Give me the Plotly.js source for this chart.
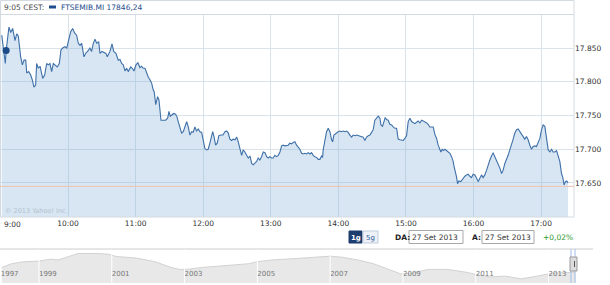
<!DOCTYPE html>
<html>
<head>
<meta charset="utf-8">
<script src="https://cdn.plot.ly/plotly-3.0.1.min.js"></script>
<style>html,body{margin:0;padding:0;background:#fff;}#chart{width:610px;height:285px;}</style>
</head>
<body>
<div id="chart"></div>
<script>
// ---- intraday data: minutes after 9:00 and index level ----
const minutesFrom9 = [
1.1,2.5,4.3,5.0,7.5,9.1,10.8,12.9,14.4,15.8,
17.9,19.4,20.9,22.4,23.3,25.0,26.8,28.2,29.7,31.2,
32.1,33.6,35.1,37.5,39.2,41.0,42.4,43.9,45.4,46.9,
48.6,50.4,52.2,53.7,55.2,57.2,58.8,60.2,62.3,64.1,
65.9,67.6,69.1,70.6,72.1,74.1,75.9,77.4,79.4,80.9,
82.4,83.9,85.4,87.2,88.3,90.1,91.9,93.6,94.8,97.2,
99.0,100.5,102.5,104.6,106.1,107.6,109.0,110.5,112.0,113.4,
115.6,117.0,118.5,120.3,122.0,123.8,125.3,126.7,128.3,129.8,
131.2,132.7,134.2,135.6,136.5,137.8,138.6,139.5,140.7,141.6,
142.5,144.5,146.6,148.4,149.6,150.7,152.0,153.7,155.5,156.7,
157.8,159.3,160.8,162.3,163.8,165.3,166.7,168.2,169.7,171.1,
172.6,174.1,175.6,177.1,178.6,180.0,181.5,183.0,184.4,185.9,
187.5,188.4,189.5,191.0,192.4,193.9,195.7,197.5,199.3,200.8,
202.2,203.7,205.2,206.6,208.1,209.7,211.1,212.6,214.1,215.5,
217.0,218.5,220.0,221.5,223.0,224.4,225.9,227.4,228.8,230.3,
231.8,233.3,234.8,236.3,237.7,239.2,240.7,242.1,243.6,245.1,
246.6,248.1,249.6,251.0,252.5,254.0,255.4,256.9,258.4,259.9,
261.4,262.9,264.3,265.8,267.3,268.8,270.3,271.8,273.2,274.7,
276.2,277.6,279.1,280.6,282.1,283.6,285.1,286.0,286.5,288.0,
289.5,291.0,292.5,294.0,294.9,296.0,297.8,299.8,301.3,302.8,
304.3,305.8,307.3,308.7,310.2,311.7,313.1,314.7,316.2,317.6,
319.1,320.6,322.0,323.5,325.0,326.5,328.0,329.5,330.9,332.4,
333.9,335.4,336.9,337.8,339.2,340.4,341.6,342.8,344.2,345.7,
347.2,348.7,350.2,351.7,353.1,354.6,356.1,357.5,359.0,360.5,
362.0,363.5,365.0,366.4,367.9,369.4,370.8,372.4,373.9,375.3,
376.8,378.3,379.7,381.2,382.7,384.2,385.7,387.2,388.6,390.1,
391.0,392.2,393.1,394.6,396.1,397.5,399.0,400.5,401.9,402.8,
404.0,404.9,405.8,407.0,408.7,410.8,412.3,413.8,415.2,416.7,
418.2,419.7,421.2,422.7,424.1,425.6,427.1,428.5,430.0,431.6,
433.0,434.5,436.0,437.4,438.3,439.5,440.4,441.8,443.4,444.9,
446.3,447.8,449.3,450.7,452.2,453.7,455.2,456.7,458.2,459.6,
461.1,462.6,464.0,465.5,467.0,468.5,470.0,471.5,472.9,474.4,
475.9,477.4,478.9,480.4,481.8,483.3,484.2,485.4,486.3,487.8,
489.3,490.7,492.2,493.7,495.2,496.6,498.1,499.3,500.4,501.6,
502.8,503.9];
const prices = [
17869,17852,17827,17846,17881,17873,17879,17861,17871,17868,
17837,17825,17832,17832,17813,17815,17810,17803,17792,17795,
17827,17820,17823,17805,17810,17827,17825,17827,17815,17827,
17825,17822,17827,17847,17850,17852,17850,17859,17874,17879,
17872,17869,17857,17854,17857,17837,17843,17845,17850,17845,
17857,17863,17857,17859,17842,17845,17843,17842,17837,17845,
17856,17845,17842,17832,17833,17827,17825,17816,17820,17815,
17822,17820,17816,17825,17828,17821,17823,17820,17820,17813,
17807,17803,17798,17788,17785,17766,17770,17778,17773,17758,
17743,17743,17743,17746,17756,17749,17751,17753,17752,17748,
17741,17731,17724,17726,17733,17741,17733,17721,17726,17725,
17733,17727,17730,17726,17725,17714,17701,17699,17700,17709,
17721,17726,17719,17706,17709,17720,17721,17721,17726,17727,
17724,17715,17713,17715,17714,17718,17711,17699,17691,17699,
17696,17691,17687,17690,17679,17677,17679,17682,17687,17684,
17689,17696,17695,17689,17687,17689,17687,17687,17691,17689,
17691,17696,17705,17706,17705,17706,17706,17709,17708,17710,
17711,17706,17703,17700,17694,17693,17694,17693,17695,17693,
17695,17691,17689,17688,17685,17685,17690,17688,17699,17714,
17726,17731,17726,17714,17711,17721,17724,17726,17727,17726,
17727,17726,17727,17725,17721,17718,17721,17720,17721,17720,
17720,17719,17718,17713,17718,17720,17721,17725,17729,17743,
17747,17749,17746,17736,17734,17741,17747,17744,17743,17737,
17736,17733,17731,17731,17715,17714,17714,17713,17716,17720,
17741,17746,17741,17739,17738,17740,17742,17739,17743,17742,
17741,17739,17737,17733,17733,17733,17722,17716,17706,17701,
17696,17700,17698,17700,17698,17696,17694,17689,17682,17674,
17667,17659,17649,17653,17652,17657,17660,17662,17663,17660,
17658,17663,17662,17657,17652,17657,17662,17658,17662,17669,
17677,17684,17690,17695,17691,17687,17684,17678,17672,17664,
17669,17679,17684,17691,17699,17706,17715,17724,17729,17730,
17726,17721,17719,17715,17719,17714,17706,17700,17704,17705,
17704,17709,17716,17729,17736,17734,17724,17706,17699,17696,
17700,17696,17696,17698,17691,17682,17664,17658,17647,17652,
17653,17650];

const hourTicks = [0,60,120,180,240,300,360,420,480];
const hourLabels = ["9:00","10:00","11:00","12:00","13:00","14:00","15:00","16:00","17:00"];
const priceTicks = [17650,17700,17750,17800,17850];
const prevClose = 17645;

const quoteTimeLabel = "9:05 CEST:";
const quoteMinute = 5;
const ticker = "FTSEMIB.MI";
const quoteValue = 17846.24;
const dateFrom = "27 Set 2013";
const dateTo = "27 Set 2013";
const changePct = "+0,02%";
const rangeButtons = ["1g","5g"];

// ---- long-term navigator (decimal year, level) ----
const navYears = [1997.98,1998.25,1998.57,1999.00,1999.32,1999.53,1999.85,2000.07,2000.60,2000.92,
2001.13,2001.67,2002.20,2002.63,2002.85,2003.06,2003.49,2003.91,2004.34,2004.77,
2004.98,2005.41,2005.95,2006.48,2007.01,2007.34,2007.76,2008.19,2008.62,2008.94,
2009.26,2009.69,2010.22,2010.76,2011.08,2011.40,2011.82,2012.25,2012.68,2013.11,2013.59,2013.74];
const navLevels = [29580,35100,37860,38960,41720,40620,46140,50000,50000,48900,
45600,43400,37860,29580,26800,26800,29580,31230,32340,35100,
37860,40620,42270,44480,46140,44480,40620,35100,26800,20190,
21300,26800,26800,22400,18540,15780,16880,13000,16880,21300,22400,22900];
const navTickVals = [1997.95,1999,2001,2003,2005,2007,2009,2011,2013];
const navTickText = ["1997","1999","2001","2003","2005","2007","2009","2011","2013"];
const navSeparators = [1999,2001,2003,2005,2007,2009,2011,2013];

const W = 610, H = 285;
const X = p => p / W;
const Y = p => 1 - p / H;
const FONT = "DejaVu Sans, Verdana, sans-serif";
const fmtVal = v => v.toFixed(2).replace('.', ',');

const traces = [
  {
    x: minutesFrom9, y: prices, type: 'scatter', mode: 'lines',
    fill: 'tozeroy', fillcolor: 'rgba(110,165,210,0.28)',
    line: {color: '#3f70a8', width: 1.1},
    hoverinfo: 'skip', xaxis: 'x', yaxis: 'y'
  },
  {
    x: [quoteMinute], y: [quoteValue], type: 'scatter', mode: 'markers',
    marker: {color: '#1c4a86', size: 7},
    hoverinfo: 'skip', xaxis: 'x', yaxis: 'y'
  },
  {
    x: navYears, y: navLevels, type: 'scatter', mode: 'lines',
    fill: 'tozeroy', fillcolor: '#e8e8e8',
    line: {color: '#d2d2d2', width: 1},
    hoverinfo: 'skip', xaxis: 'x2', yaxis: 'y2'
  }
];

const shapes = [
  {type:'rect', xref:'paper', yref:'paper', x0:X(0.5), x1:X(574), y0:Y(0.5), y1:Y(217), line:{color:'#d3dae1', width:1}},
  {type:'line', xref:'paper', yref:'paper', x0:X(0), x1:X(574), y0:Y(14.5), y1:Y(14.5), line:{color:'#d3dae1', width:1}},
  {type:'line', xref:'paper', yref:'y', x0:X(0), x1:X(574), y0:prevClose, y1:prevClose, line:{color:'#f2c2ac', width:1}, layer:'above'},
  {type:'rect', xref:'paper', yref:'paper', x0:X(49), x1:X(56), y0:Y(5.5), y1:Y(8.5), fillcolor:'#1f4e8c', line:{width:0}},
  // range buttons
  {type:'rect', xref:'paper', yref:'paper', x0:X(349), x1:X(362), y0:Y(231), y1:Y(243), fillcolor:'#1c3d6e', line:{color:'#1c3d6e', width:1}},
  {type:'rect', xref:'paper', yref:'paper', x0:X(363), x1:X(378), y0:Y(231), y1:Y(243), fillcolor:'#eef2f8', line:{color:'#bfcddc', width:1}},
  // date boxes
  {type:'rect', xref:'paper', yref:'paper', x0:X(409), x1:X(463), y0:Y(230.5), y1:Y(243.5), fillcolor:'#ffffff', line:{color:'#a8a8a8', width:1}},
  {type:'rect', xref:'paper', yref:'paper', x0:X(482), x1:X(534), y0:Y(230.5), y1:Y(243.5), fillcolor:'#ffffff', line:{color:'#a8a8a8', width:1}},
  // navigator frame
  {type:'line', xref:'paper', yref:'paper', x0:X(0), x1:X(593), y0:Y(249), y1:Y(249), line:{color:'#cccccc', width:1}},
  {type:'line', xref:'paper', yref:'paper', x0:X(571), x1:X(571), y0:Y(249), y1:Y(283), line:{color:'#9fbde6', width:1}, layer:'above'},
  {type:'line', xref:'paper', yref:'paper', x0:X(575), x1:X(575), y0:Y(249), y1:Y(283), line:{color:'#9fbde6', width:1}, layer:'above'},
  {type:'rect', xref:'paper', yref:'paper', x0:X(570), x1:X(577), y0:Y(257), y1:Y(271), fillcolor:'#dcdcdc', line:{color:'#9a9a9a', width:1}, layer:'above'},
  {type:'line', xref:'paper', yref:'paper', x0:X(574.5), x1:X(574.5), y0:Y(261), y1:Y(267), line:{color:'#555', width:1}, layer:'above'}
];
navSeparators.forEach(yr => shapes.push({
  type:'line', xref:'x2', yref:'paper', x0:yr, x1:yr, y0:Y(283), y1:Y(249.5),
  line:{color:'#ffffff', width:1}, layer:'above'
}));

const annotations = [
  {text: quoteTimeLabel, x:X(3), y:Y(7.5), xanchor:'left', yanchor:'middle', font:{family:FONT, size:7.5, color:'#4a4a4a'}},
  {text: ticker + ' ' + fmtVal(quoteValue), x:X(60), y:Y(7.5), xanchor:'left', yanchor:'middle', font:{family:FONT, size:7.5, color:'#1f4e8c'}},
  {text: hourLabels[0], x:X(3), y:Y(224.5), xanchor:'left', yanchor:'middle', font:{family:FONT, size:7.5, color:'#333'}},
  {text: '© 2013 Yahoo! Inc.', x:X(4), y:Y(211), xanchor:'left', yanchor:'middle', font:{family:FONT, size:6.5, color:'#b3c2d0'}},
  {text: '<b>' + rangeButtons[0] + '</b>', x:X(355.5), y:Y(237.5), xanchor:'center', yanchor:'middle', font:{family:FONT, size:7, color:'#ffffff'}},
  {text: rangeButtons[1], x:X(370.5), y:Y(237.5), xanchor:'center', yanchor:'middle', font:{family:FONT, size:7, color:'#2a5a9a'}},
  {text: '<b>DA:</b>', x:X(394), y:Y(237.5), xanchor:'left', yanchor:'middle', font:{family:FONT, size:7.5, color:'#222'}},
  {text: dateFrom, x:X(411), y:Y(237.5), xanchor:'left', yanchor:'middle', font:{family:FONT, size:7.5, color:'#333'}},
  {text: '<b>A:</b>', x:X(471), y:Y(237.5), xanchor:'left', yanchor:'middle', font:{family:FONT, size:7.5, color:'#222'}},
  {text: dateTo, x:X(484), y:Y(237.5), xanchor:'left', yanchor:'middle', font:{family:FONT, size:7.5, color:'#333'}},
  {text: changePct, x:X(542), y:Y(237.5), xanchor:'left', yanchor:'middle', font:{family:FONT, size:7.5, color:'#2f9a2f'}}
].map(a => Object.assign({showarrow:false, xref:'paper', yref:'paper', borderpad:0}, a));

const layout = {
  width: W, height: H,
  margin: {l:0, r:0, t:0, b:0, pad:0},
  paper_bgcolor: '#ffffff', plot_bgcolor: '#ffffff',
  separators: ',.',
  showlegend: false,
  font: {family: FONT, size: 7.5, color: '#333'},
  xaxis: {
    domain: [X(0), X(574)], range: [-0.44, 509.2],
    tickvals: hourTicks, ticktext: [''].concat(hourLabels.slice(1)),
    showgrid: true, gridcolor: '#dbe3ea', gridwidth: 1,
    zeroline: false, showline: false, ticks: '', fixedrange: true,
    tickfont: {family: FONT, size: 7.5, color: '#333'}
  },
  yaxis: {
    domain: [Y(217), Y(14)], range: [17599.6, 17900.4],
    side: 'right', tickvals: priceTicks, tickformat: ',d',
    showgrid: true, gridcolor: '#dbe3ea', gridwidth: 1,
    zeroline: false, showline: false, ticks: '', fixedrange: true,
    tickfont: {family: FONT, size: 7.5, color: '#333'}
  },
  xaxis2: {
    domain: [X(0), X(593)], range: [1997.93, 2014.22], anchor: 'y2',
    tickvals: navTickVals, ticktext: navTickText,
    ticklabelposition: 'inside right',
    showgrid: false, zeroline: false, showline: false, ticks: '',
    tickfont: {family: FONT, size: 7, color: '#777'}
  },
  yaxis2: {
    domain: [Y(283), Y(249)], range: [6900, 56600], anchor: 'x2',
    showgrid: false, zeroline: false, showline: false, showticklabels: false, ticks: ''
  },
  shapes: shapes,
  annotations: annotations
};

Plotly.newPlot('chart', traces, layout, {displayModeBar: false, staticPlot: true});
</script>
</body>
</html>
